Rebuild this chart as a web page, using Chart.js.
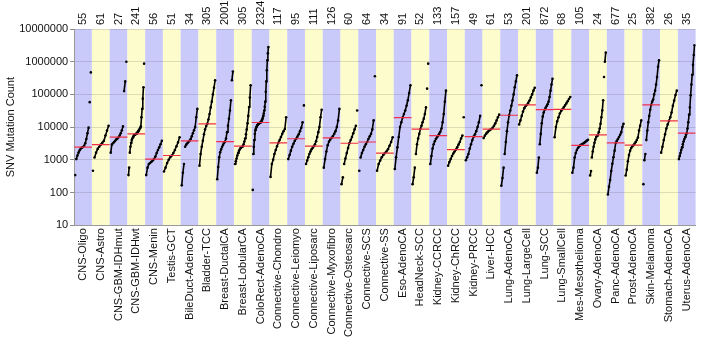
<!DOCTYPE html>
<html>
<head>
<meta charset="utf-8">
<script src="https://cdn.jsdelivr.net/npm/chart.js@4"></script>
<style>
  body { margin: 0; background: #fff; }
</style>
</head>
<body>
<canvas id="chart1" width="703" height="348"></canvas>
<script>
// categories and sample counts (top labels)
const categories = ['CNS-Oligo', 'CNS-Astro', 'CNS-GBM-IDHmut', 'CNS-GBM-IDHwt', 'CNS-Menin', 'Testis-GCT',
    'BileDuct-AdenoCA', 'Bladder-TCC', 'Breast-DuctalCA', 'Breast-LobularCA', 'ColoRect-AdenoCA',
    'Connective-Chondro', 'Connective-Leiomyo', 'Connective-Liposarc', 'Connective-Myxofibro',
    'Connective-Osteosarc', 'Connective-SCS', 'Connective-SS', 'Eso-AdenoCA', 'HeadNeck-SCC',
    'Kidney-CCRCC', 'Kidney-ChRCC', 'Kidney-PRCC', 'Liver-HCC', 'Lung-AdenoCA', 'Lung-LargeCell',
    'Lung-SCC', 'Lung-SmallCell', 'Mes-Mesothelioma', 'Ovary-AdenoCA', 'Panc-AdenoCA', 'Prost-AdenoCA',
    'Skin-Melanoma', 'Stomach-AdenoCA', 'Uterus-AdenoCA'];
const sampleCounts = ['55', '61', '27', '241', '56', '51', '34', '305', '2001', '305', '2324', '117', '95', '111',
    '126', '60', '64', '34', '91', '52', '133', '157', '49', '61', '53', '201', '872', '68', '105', '24', '677',
    '25', '382', '26', '35'];
const yTicks = [10, 100, 1000, 10000, 100000, 1000000, 10000000];

// median per category (red lines)
const medians = [2450, 2900, 4900, 6200, 1050, 1350, 3800, 12600, 3600, 2600, 13800, 3300, 4400, 2600, 4700,
    3200, 3500, 1600, 19500, 8700, 5500, 2050, 5100, 8700, 23000, 48000, 34000, 35000, 2750, 5800, 3300, 2800,
    48000, 15500, 6500];

// sorted SNV counts per category
const cnsOligo = [340, 1050, 1350, 1650, 1950, 2200, 2350, 2450, 2700, 3200, 4300, 6500, 9600, 58000, 470000];
const cnsAstro = [460, 1170, 1650, 2150, 2500, 2900, 3300, 3800, 5500, 7800, 11000];
const cnsGbmIdhMut = [1650, 2900, 3200, 3500, 3800, 4200, 4500, 4900, 5500, 6500, 8000, 10500, 126000, 250000, 1000000];
const cnsGbmIdhWt = [340, 575, 1650, 2500, 3300, 4000, 4500, 5000, 5400, 5700, 5900, 6100, 6200, 6600, 7000, 7500,
    8000, 8700, 9500, 10500, 20000, 36000, 74000, 165000, 870000];
const cnsMenin = [340, 575, 740, 800, 870, 950, 1050, 1250, 1600, 2000, 2400, 3000, 3800];
const testisGct = [440, 575, 800, 1000, 1200, 1350, 1600, 2000, 2600, 3400, 4900];
const bileDuctAdeno = [165, 400, 740, 2500, 2900, 3200, 3500, 3800, 4300, 5200, 6500, 8000, 10000, 20000, 36000];
const bladderTcc = [660, 1500, 2500, 3800, 6000, 8500, 10800, 12600, 17000, 25000, 40000, 60000, 100000, 160000, 270000];
const breastDuctal = [255, 600, 1200, 1700, 2100, 2500, 2900, 3300, 3600, 4500, 7000, 11000, 18000, 32000, 66000,
    270000, 500000];
const breastLobular = [740, 900, 1100, 1350, 1600, 1850, 2050, 2250, 2400, 2500, 2600, 3000, 3600, 4500, 6000, 8500,
    13000, 22000, 41000, 80000, 190000];
const colorectAdeno = [120, 1500, 2500, 4000, 6200, 8000, 9000, 10000, 10800, 11500, 12000, 12500, 13000, 13300,
    13600, 13800, 14500, 15500, 17000, 19000, 22000, 26000, 32000, 42000, 60000, 120000, 250000, 550000, 1100000,
    1800000, 2800000];
const connChondro = [300, 740, 1000, 1500, 2000, 2600, 3300, 4000, 5000, 6200, 7500, 8700, 20000];
const connLeiomyo = [1050, 1400, 1900, 2500, 3100, 3800, 4400, 5100, 6000, 7500, 9500, 14000, 46000];
const connLiposarc = [740, 950, 1200, 1500, 1800, 2100, 2350, 2600, 3000, 3700, 5000, 7000, 10000, 20000, 34000];
const connMyxofibro = [575, 1050, 1800, 2800, 3600, 4200, 4700, 5300, 6200, 7500, 10000, 16000, 36000];
const connOsteosarc = [180, 290, 740, 1100, 1600, 2300, 3200, 4000, 5000, 6500, 8500, 11000, 32000];
const connScs = [460, 1170, 1600, 2000, 2500, 3000, 3500, 4300, 5200, 6200, 8500, 16000, 360000];
const connSs = [460, 740, 950, 1200, 1400, 1600, 1800, 2100, 2700, 3500, 4900];
const esoAdeno = [520, 1200, 2400, 5000, 10000, 14000, 19500, 25000, 32000, 45000, 66000, 110000, 190000];
const headNeckScc = [180, 290, 575, 1500, 3000, 4500, 6200, 8700, 11000, 14000, 18000, 25000, 40000, 150000, 870000];
const kidneyCcrcc = [740, 1300, 2200, 3000, 3700, 4300, 4900, 5500, 6300, 7200, 9000, 14000, 25000, 60000, 130000];
const kidneyChrcc = [660, 850, 1050, 1300, 1550, 1800, 2050, 2400, 2900, 3500, 4500, 5500, 20000];
const kidneyPrcc = [970, 1200, 1500, 2200, 3000, 4000, 5100, 6000, 7500, 10000, 14000, 22000, 190000];
const liverHcc = [4600, 5500, 6300, 7000, 7700, 8200, 8700, 9500, 11000, 13000, 16000, 20000, 24000];
const lungAdeno = [160, 275, 575, 1500, 3500, 7500, 14000, 23000, 32000, 45000, 65000, 100000, 165000, 250000, 385000];
const lungLargeCell = [12000, 16000, 22000, 30000, 38000, 44000, 48000, 55000, 65000, 80000, 100000, 130000, 160000];
const lungScc = [400, 575, 1170, 3000, 6200, 13000, 21000, 28000, 34000, 39000, 44000, 50000, 60000, 83000, 130000,
    200000, 300000];
const lungSmallCell = [4900, 10000, 15000, 20000, 26000, 31000, 35000, 40000, 46000, 53000, 62000, 72000, 83000];
const mesoMeso = [400, 575, 1170, 1600, 2000, 2300, 2550, 2750, 2900, 3050, 3200, 3400, 3600, 3850, 4100];
const ovaryAdeno = [330, 450, 1170, 1800, 2500, 3300, 4200, 5000, 5400, 5800, 7000, 9000, 12600, 20000, 32000, 66000,
    340000, 1000000, 1900000];
const pancAdeno = [87, 150, 240, 450, 750, 1200, 1900, 3300, 3800, 4300, 5000, 5800, 7000, 10000, 12600];
const prostAdeno = [330, 500, 900, 1400, 1900, 2300, 2600, 2800, 3100, 3500, 4000, 4800, 7800, 11000, 16000];
const skinMelanoma = [180, 970, 1500, 4000, 7800, 14000, 22000, 34000, 48000, 60000, 70000, 100000, 130000, 200000,
    340000, 700000, 1100000];
const stomachAdeno = [1650, 2500, 4000, 6000, 9000, 12000, 15500, 20000, 28000, 45000, 65000, 95000, 130000];
const uterusAdeno = [1050, 1300, 1600, 2000, 2400, 3000, 3600, 4300, 5000, 5800, 6500, 9000, 14000, 24000, 40000,
    94000, 200000, 400000, 800000, 1600000, 3200000];

const seriesValues = [cnsOligo, cnsAstro, cnsGbmIdhMut, cnsGbmIdhWt, cnsMenin, testisGct, bileDuctAdeno, bladderTcc,
    breastDuctal, breastLobular, colorectAdeno, connChondro, connLeiomyo, connLiposarc, connMyxofibro,
    connOsteosarc, connScs, connSs, esoAdeno, headNeckScc, kidneyCcrcc, kidneyChrcc, kidneyPrcc, liverHcc,
    lungAdeno, lungLargeCell, lungScc, lungSmallCell, mesoMeso, ovaryAdeno, pancAdeno, prostAdeno, skinMelanoma,
    stomachAdeno, uterusAdeno];

const fontFamily = "'Liberation Sans', Arial, Helvetica, sans-serif";
const blueBand = 'rgb(202, 202, 250)';
const yellowBand = 'rgb(252, 252, 204)';

// alternating blue / yellow columns behind everything
const columnShading = {
    id: 'columnShading',
    beforeDraw(chart) {
        const {ctx, chartArea, scales} = chart;
        const x = scales.x;
        ctx.save();
        categories.forEach((c, i) => {
            const left = x.getPixelForValue(i - 0.5);
            const right = x.getPixelForValue(i + 0.5);
            ctx.fillStyle = i % 2 ? yellowBand : blueBand;
            ctx.fillRect(left, chartArea.top, right - left, chartArea.bottom - chartArea.top);
        });
        ctx.restore();
    }
};

// sample counts above each column, rotated like the category labels
const countLabels = {
    id: 'countLabels',
    afterDraw(chart) {
        const {ctx, chartArea, scales} = chart;
        const x = scales.x;
        ctx.save();
        ctx.font = '11px ' + fontFamily;
        ctx.fillStyle = '#111';
        ctx.textAlign = 'left';
        ctx.textBaseline = 'middle';
        sampleCounts.forEach((t, i) => {
            ctx.save();
            ctx.translate(x.getPixelForValue(i), chartArea.top - 4);
            ctx.rotate(-Math.PI / 2);
            ctx.fillText(t, 0, 0);
            ctx.restore();
        });
        ctx.restore();
    }
};

// each category: points spread across its column in sorted order
const pointSets = seriesValues.map((vals, i) => ({
    label: categories[i],
    data: vals.map((v, j) => ({x: i - 0.44 + 0.88 * j / (vals.length - 1), y: v})),
    showLine: true,
    borderColor: '#000',
    borderWidth: 1.6,
    pointRadius: 1.3,
    pointBackgroundColor: '#000',
    pointBorderWidth: 0,
    segment: {
        // don't join isolated outliers to the curve
        borderColor: s => Math.abs(Math.log10(s.p1.parsed.y / s.p0.parsed.y)) > 0.4 ? 'rgba(0,0,0,0)' : '#000'
    },
    order: 2
}));

const medianSet = {
    label: 'median',
    data: medians.flatMap((m, i) => [{x: i - 0.5, y: m}, {x: i + 0.5, y: m}, {x: i + 0.5, y: null}]),
    showLine: true,
    spanGaps: false,
    borderColor: '#f0304a',
    borderWidth: 1.2,
    pointRadius: 0,
    order: 1
};

const ctx = document.getElementById('chart1').getContext('2d');
const chart = new Chart(ctx, {
    type: 'scatter',
    data: {
        datasets: [medianSet, ...pointSets]
    },
    options: {
        responsive: false,
        animation: false,
        devicePixelRatio: 1,
        layout: {padding: {left: 1, right: 5, top: 29, bottom: 8}},
        plugins: {
            legend: {display: false},
            tooltip: {enabled: false}
        },
        scales: {
            x: {
                type: 'linear',
                position: 'bottom',
                min: -0.5,
                max: 34.5,
                afterBuildTicks: s => { s.ticks = categories.map((c, i) => ({value: i})); },
                ticks: {
                    autoSkip: false,
                    minRotation: 90,
                    maxRotation: 90,
                    padding: 3,
                    color: '#111',
                    font: {family: fontFamily, size: 11},
                    callback: v => categories[v]
                },
                grid: {display: false, drawTicks: false},
                border: {display: true, color: '#999'}
            },
            y: {
                type: 'logarithmic',
                min: 10,
                max: 10000000,
                afterBuildTicks: s => { s.ticks = yTicks.map(v => ({value: v})); },
                ticks: {
                    color: '#111',
                    padding: 2,
                    font: {family: fontFamily, size: 11},
                    callback: v => String(v)
                },
                grid: {color: 'rgba(0,0,0,0.12)', tickLength: 4, tickColor: '#888'},
                border: {display: true, color: '#999'},
                title: {
                    display: true,
                    text: 'SNV Mutation Count',
                    color: '#111',
                    font: {family: fontFamily, size: 11},
                    padding: {top: 3, bottom: 0}
                }
            }
        }
    },
    plugins: [columnShading, countLabels]
});
</script>
</body>
</html>
